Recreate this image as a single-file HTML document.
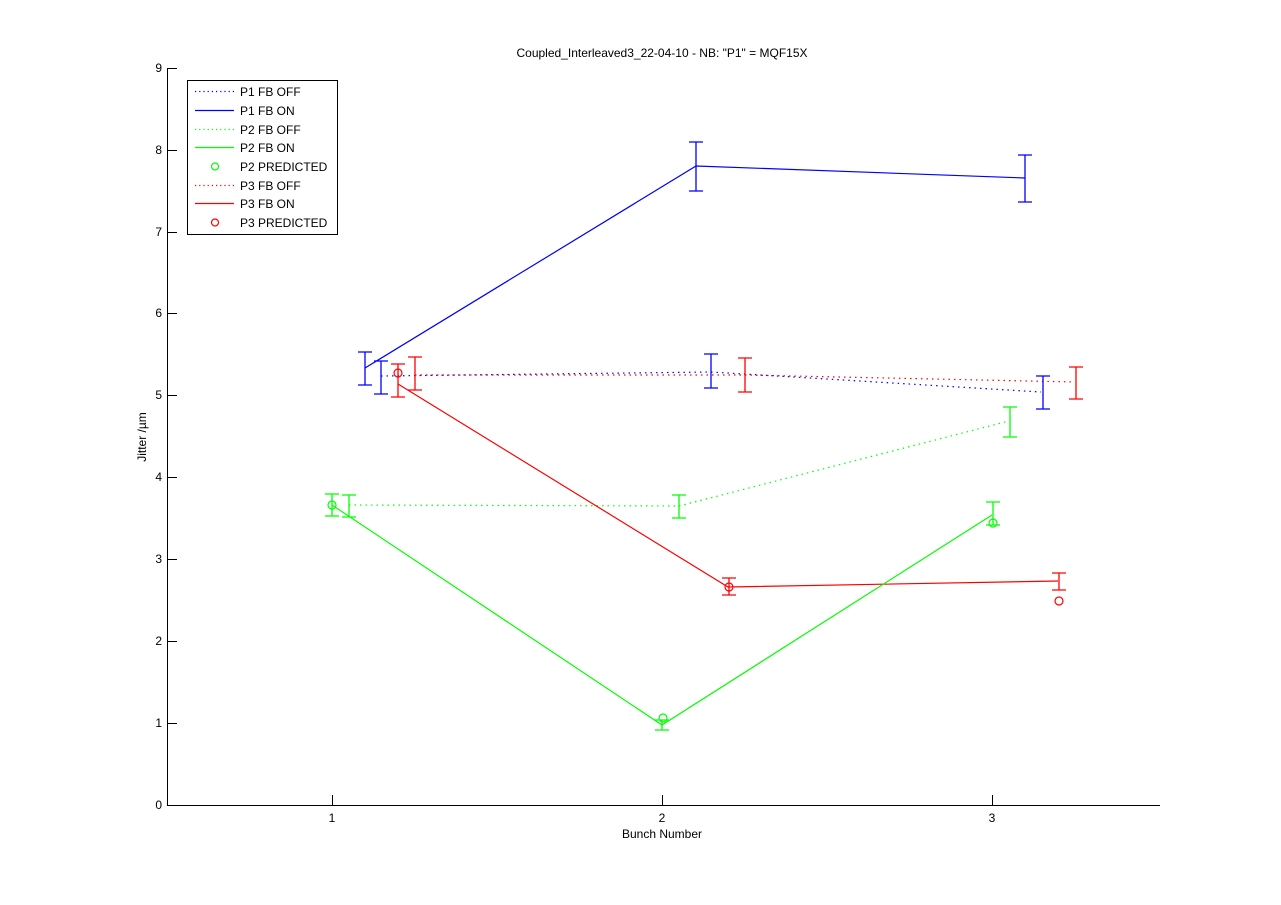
<!DOCTYPE html>
<html><head><meta charset="utf-8"><style>
html,body{margin:0;padding:0;background:#fff;}
svg{display:block;font-family:"Liberation Sans",sans-serif;}
</style></head><body>
<svg width="1281" height="905" viewBox="0 0 1281 905" xmlns="http://www.w3.org/2000/svg">
<rect width="1281" height="905" fill="#fff"/>
<text x="662" y="57" font-size="12" text-anchor="middle">Coupled_Interleaved3_22-04-10 - NB: "P1" = MQF15X</text>
<g stroke="#000" stroke-width="1" fill="none">
<line x1="167.5" y1="68" x2="167.5" y2="805.5"/>
<line x1="167" y1="805.5" x2="1160" y2="805.5"/>
<line x1="332.5" y1="805" x2="332.5" y2="795"/>
<line x1="662.5" y1="805" x2="662.5" y2="795"/>
<line x1="992.5" y1="805" x2="992.5" y2="795"/>
<line x1="167" y1="723.5" x2="177" y2="723.5"/>
<line x1="167" y1="641.5" x2="177" y2="641.5"/>
<line x1="167" y1="559.5" x2="177" y2="559.5"/>
<line x1="167" y1="477.5" x2="177" y2="477.5"/>
<line x1="167" y1="395.5" x2="177" y2="395.5"/>
<line x1="167" y1="313.5" x2="177" y2="313.5"/>
<line x1="167" y1="232.5" x2="177" y2="232.5"/>
<line x1="167" y1="150.5" x2="177" y2="150.5"/>
<line x1="167" y1="68.5" x2="177" y2="68.5"/>
</g>
<g font-size="12" text-anchor="end">
<text x="162" y="809">0</text><text x="162" y="727">1</text><text x="162" y="645">2</text>
<text x="162" y="563">3</text><text x="162" y="481">4</text><text x="162" y="399">5</text>
<text x="162" y="317">6</text><text x="162" y="236">7</text><text x="162" y="154">8</text>
<text x="162" y="72">9</text>
</g>
<g font-size="12" text-anchor="middle">
<text x="332" y="822">1</text><text x="662" y="822">2</text><text x="992" y="822">3</text>
<text x="662" y="838">Bunch Number</text>
</g>
<text transform="translate(146,437) rotate(-90)" font-size="12" text-anchor="middle">Jitter /µm</text>

<g fill="none" stroke-width="1.2">
<polyline points="381,376 711,372 1041,392" stroke="#00f" stroke-dasharray="1.5,4"/>
<polyline points="415,375 745,375 1075,382" stroke="#f00" stroke-dasharray="1.5,4"/>
<polyline points="349,505 679,506 1009,421" stroke="#0f0" stroke-dasharray="1.5,4"/>
<polyline points="365,368 696,166 1025,178" stroke="#00f"/>
<polyline points="398,384 728,587 1058,581" stroke="#f00"/>
<polyline points="332,505 662,725 992,515" stroke="#0f0"/>
</g>
<g fill="none" stroke-width="1.3">
<path stroke="#00f" d="M365,352V385M358,352H372M358,385H372 M696,142V191M689,142H703M689,191H703 M1025,155V202M1018,155H1032M1018,202H1032 M381,361V394M374,361H388M374,394H388 M711,354V388M704,354H718M704,388H718 M1043,376V409M1036,376H1050M1036,409H1050"/>
<path stroke="#f00" d="M415,357V390M408,357H422M408,390H422 M745,358V392M738,358H752M738,392H752 M1076,367V399M1069,367H1083M1069,399H1083 M398,364V397M391,364H405M391,397H405 M729,578V595M722,578H736M722,595H736 M1059,573V590M1052,573H1066M1052,590H1066"/>
<path stroke="#0f0" d="M332,494V516M325,494H339M325,516H339 M349,495V517M342,495H356M342,517H356 M662,720V730M655,720H669M655,730H669 M679,495V518M672,495H686M672,518H686 M993,502V525M986,502H1000M986,525H1000 M1010,407V437M1003,407H1017M1003,437H1017"/>
</g>
<g fill="none" stroke-width="1.2">
<circle cx="332" cy="505" r="4" stroke="#0f0"/><circle cx="663" cy="718" r="4" stroke="#0f0"/><circle cx="993" cy="523" r="4" stroke="#0f0"/>
<circle cx="398" cy="373" r="4" stroke="#f00"/><circle cx="729" cy="587" r="4" stroke="#f00"/><circle cx="1059" cy="601" r="4" stroke="#f00"/>
</g>

<rect x="187.5" y="80.5" width="150" height="154" fill="#fff" stroke="#000"/>
<g stroke-width="1.2" fill="none">
<line x1="195" y1="91.5" x2="234" y2="91.5" stroke="#00f" stroke-dasharray="1.2,3"/>
<line x1="195" y1="110.5" x2="234" y2="110.5" stroke="#00f"/>
<line x1="195" y1="129.5" x2="234" y2="129.5" stroke="#0f0" stroke-dasharray="1.2,3"/>
<line x1="195" y1="147.5" x2="234" y2="147.5" stroke="#0f0"/>
<circle cx="215" cy="166.5" r="3.5" stroke="#0f0"/>
<line x1="195" y1="185.5" x2="234" y2="185.5" stroke="#f00" stroke-dasharray="1.2,3"/>
<line x1="195" y1="203.5" x2="234" y2="203.5" stroke="#f00"/>
<circle cx="215" cy="222.5" r="3.5" stroke="#f00"/>
</g>
<g font-size="12">
<text x="240" y="96">P1 FB OFF</text>
<text x="240" y="115">P1 FB ON</text>
<text x="240" y="134">P2 FB OFF</text>
<text x="240" y="152">P2 FB ON</text>
<text x="240" y="171">P2 PREDICTED</text>
<text x="240" y="190">P3 FB OFF</text>
<text x="240" y="208">P3 FB ON</text>
<text x="240" y="227">P3 PREDICTED</text>
</g>
</svg>
</body></html>
